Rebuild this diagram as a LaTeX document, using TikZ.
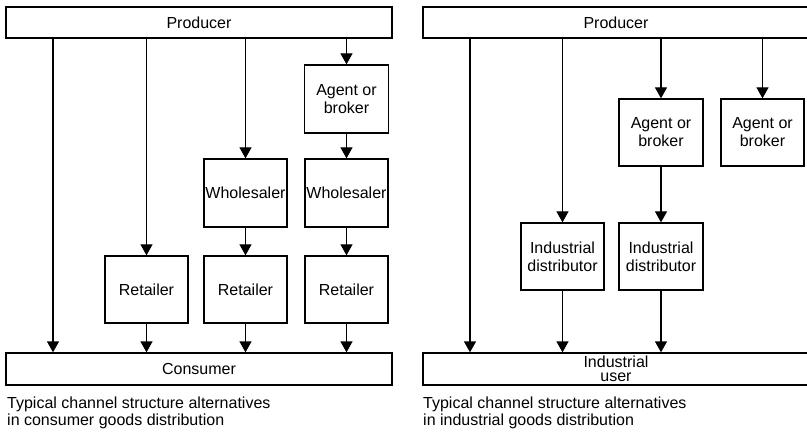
\documentclass[tikz,border=0pt]{standalone}
\usepackage{fontspec}
\setmainfont{Liberation Sans}
\usetikzlibrary{arrows.meta}
\begin{document}
\begin{tikzpicture}[x=1pt,y=-1pt,
  box/.style={draw=black,line width=1.3pt,inner sep=0pt,align=center,
    font=\fontsize{16}{18}\selectfont},
  bar/.style={box,minimum height=31pt},
  unit/.style={box,minimum width=83pt,minimum height=67pt},
  flow/.style={draw=black,line width=1.3pt,-{Triangle[width=12pt,length=11pt]}},
  caption/.style={anchor=north west,inner sep=0pt,align=left,
    font=\fontsize{16}{16.5}\selectfont}]
\clip (0,0) rectangle (807,433);
\fill[white] (0,0) rectangle (807,433);

% ---- consumer goods channels ----
\node[bar,minimum width=386pt] (prodL) at (199,22.5) {Producer};
\node[bar,minimum width=386pt,minimum height=32pt] (consL) at (199,369) {Consumer};
\node[unit,minimum width=84pt,minimum height=68pt] (agentL) at (346.5,99) {Agent or\\broker};
\node[unit,minimum height=68pt] (whL1) at (245.5,193) {Wholesaler};
\node[unit,minimum height=68pt] (whL2) at (346.5,193) {Wholesaler};
\node[unit] (retL1) at (146.5,289.5) {Retailer};
\node[unit] (retL2) at (245.5,289.5) {Retailer};
\node[unit] (retL3) at (346.5,289.5) {Retailer};
\coordinate (directL) at (53,0);

\draw[flow] (prodL.south -| directL) -- (consL.north -| directL);
\draw[flow] (prodL.south -| retL1) -- (retL1.north);
\draw[flow] (prodL.south -| whL1) -- (whL1.north);
\draw[flow] (prodL.south -| agentL) -- (agentL.north);
\draw[flow] (agentL) -- (whL2);
\draw[flow] (whL1) -- (retL2);
\draw[flow] (whL2) -- (retL3);
\draw[flow] (retL1.south) -- (consL.north -| retL1);
\draw[flow] (retL2.south) -- (consL.north -| retL2);
\draw[flow] (retL3.south) -- (consL.north -| retL3);

\node[caption] (capL) at (7,397) {Typical channel structure alternatives\\in consumer goods distribution};

% ---- industrial goods channels ----
\node[bar,minimum width=389pt] (prodR) at (617.5,22.5) {\hspace*{-3pt}Producer};
\node[box,minimum width=389pt,minimum height=32pt,
  font=\fontsize{16}{14.5}\selectfont] (userR) at (617.5,369) {\hspace*{-3pt}Industrial\\\hspace*{-3pt}user};
\node[unit,minimum width=84pt] (agentR1) at (661,132.5) {Agent or\\broker};
\node[unit] (agentR2) at (762.5,132.5) {Agent or\\broker};
\node[unit] (distR1) at (562.5,256.5) {Industrial\\distributor};
\node[unit,minimum width=84pt] (distR2) at (661,256.5) {Industrial\\distributor};
\coordinate (directR) at (470,0);

\draw[flow] (prodR.south -| directR) -- (userR.north -| directR);
\draw[flow] (prodR.south -| distR1) -- (distR1.north);
\draw[flow] (prodR.south -| agentR1) -- (agentR1.north);
\draw[flow] (prodR.south -| agentR2) -- (agentR2.north);
\draw[flow] (agentR1) -- (distR2);
\draw[flow] (distR1.south) -- (userR.north -| distR1);
\draw[flow] (distR2.south) -- (userR.north -| distR2);

\node[caption] (capR) at (423,397) {Typical channel structure alternatives\\in industrial goods distribution};
\end{tikzpicture}
\end{document}
